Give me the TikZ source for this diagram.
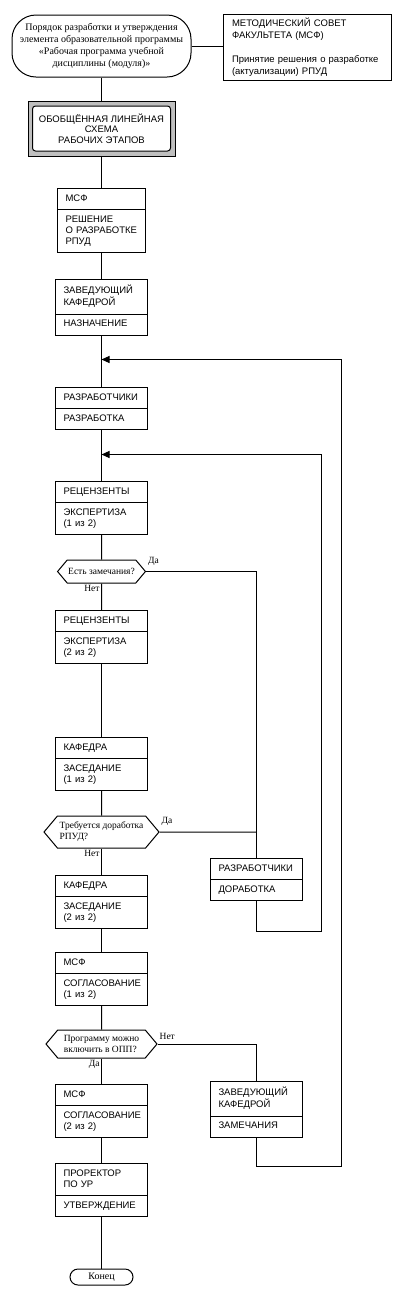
\documentclass[tikz,border=0pt]{standalone}
\usepackage{fontspec}
\setmainfont{Liberation Serif}
\setsansfont{Liberation Sans}
\usetikzlibrary{positioning, arrows.meta, shapes.multipart, shapes.symbols}

\begin{document}
\begin{tikzpicture}[
      x=1pt, y=-1pt,
      line width=1pt,
      proc/.style={draw, rectangle split, rectangle split parts=2,
                   text width=76pt, inner xsep=8pt, inner ysep=4.5pt, align=left,
                   anchor=north, font=\sffamily\fontsize{9.5}{11}\selectfont\strut},
      dec/.style={draw, signal, signal to=west and east, signal pointer angle=100,
                  inner xsep=1pt, inner ysep=2pt, align=left,
                  font=\fontsize{9.5}{11}\selectfont},
      term/.style={draw, align=center, inner sep=0pt,
                   font=\fontsize{10}{11.7}\selectfont},
      note/.style={draw, text width=150pt, inner xsep=9pt, minimum height=66pt,
                   align=left, font=\sffamily\fontsize{9.5}{12}\selectfont},
      frame/.style={draw, fill=black!25, minimum width=147pt, minimum height=55pt},
      scheme/.style={draw, fill=white, rounded corners=3pt, inner sep=0pt,
                     minimum width=138pt, minimum height=45pt, align=center,
                     font=\sffamily\fontsize{9.5}{10.5}\selectfont},
      lbl/.style={font=\fontsize{9.5}{11}\selectfont, inner sep=1.5pt},
      >={Triangle[length=8pt, width=7pt]},
    ]
    \useasboundingbox (0,0) rectangle (407,1302);

    % header
    \node[term, minimum width=179pt, minimum height=62pt, rounded corners=24pt] (start) at (101.5,46)
      {Порядок разработки и утверждения\\элемента образовательной программы\\
       «Рабочая программа учебной\\дисциплины (модуля)»};
    \node[note] (msf) at (307,47)
      {МЕТОДИЧЕСКИЙ СОВЕТ\\ФАКУЛЬТЕТА (МСФ)\\[12pt]Принятие решения о разработке\\(актуализации) РПУД};
    \node[frame] (schemef) at (101.5,128.5) {};
    \node[scheme] (scheme) at (schemef) {ОБОБЩЁННАЯ ЛИНЕЙНАЯ\\СХЕМА\\РАБОЧИХ ЭТАПОВ};

    % main column
    \node[proc, text width=72pt] (decide) at (101.5,188) {МСФ \nodepart{two} РЕШЕНИЕ\\О РАЗРАБОТКЕ\\РПУД\strut};
    \node[proc] (assign)  at (101.5,279)  {ЗАВЕДУЮЩИЙ\\КАФЕДРОЙ\strut \nodepart{two} НАЗНАЧЕНИЕ};
    \node[proc] (dev)     at (101.5,387)  {РАЗРАБОТЧИКИ \nodepart{two} РАЗРАБОТКА};
    \node[proc] (rev1)    at (101.5,481)  {РЕЦЕНЗЕНТЫ \nodepart{two} ЭКСПЕРТИЗА\\(1 из 2)\strut};
    \node[dec, minimum width=85pt, minimum height=23pt] (remarks) at (101.5,571.5) {Есть замечания?};
    \node[proc] (rev2)    at (101.5,610)  {РЕЦЕНЗЕНТЫ \nodepart{two} ЭКСПЕРТИЗА\\(2 из 2)\strut};
    \node[proc] (dept1)   at (101.5,737)  {КАФЕДРА \nodepart{two} ЗАСЕДАНИЕ\\(1 из 2)\strut};
    \node[dec, minimum width=115pt, minimum height=32pt] (rework) at (101.5,832) {Требуется доработка\\РПУД?};
    \node[proc] (dept2)   at (101.5,875)  {КАФЕДРА \nodepart{two} ЗАСЕДАНИЕ\\(2 из 2)\strut};
    \node[proc] (agree1)  at (101.5,952)  {МСФ \nodepart{two} СОГЛАСОВАНИЕ\\(1 из 2)\strut};
    \node[dec, minimum width=111pt, minimum height=28pt] (include) at (101.5,1044) {Программу можно\\включить в ОПП?};
    \node[proc] (agree2)  at (101.5,1084) {МСФ \nodepart{two} СОГЛАСОВАНИЕ\\(2 из 2)\strut};
    \node[proc] (approve) at (101.5,1163) {ПРОРЕКТОР\\ПО УР\strut \nodepart{two} УТВЕРЖДЕНИЕ};
    \node[term, minimum width=63pt, minimum height=16pt, rounded corners=8pt] (finish) at (101.5,1277) {Конец};

    % side column
    \node[proc] (fix)    at (256.5,858)  {РАЗРАБОТЧИКИ \nodepart{two} ДОРАБОТКА};
    \node[proc] (remark) at (256.5,1081) {ЗАВЕДУЮЩИЙ\\КАФЕДРОЙ\strut \nodepart{two} ЗАМЕЧАНИЯ};

    \coordinate (back1) at (101.5,359.5);
    \coordinate (back2) at (101.5,454.5);
    \coordinate (turn1) at (341.5,1166.5);
    \coordinate (turn2) at (321.5,931.5);

    \draw (start) -- (start -| msf.west);
    \draw (start) -- (schemef);
    \draw (schemef) -- (decide);
    \draw (decide) -- (assign);
    \draw (assign) -- (dev);
    \draw (dev) -- (rev1);
    \draw (rev1) -- (remarks);
    \draw (remarks) -- (rev2) node[pos=0, lbl, below left] (no1) {Нет};
    \draw (rev2) -- (dept1);
    \draw (dept1) -- (rework);
    \draw (rework) -- (dept2) node[pos=0, lbl, below left] (no2) {Нет};
    \draw (dept2) -- (agree1);
    \draw (agree1) -- (include);
    \draw (include) -- (agree2) node[pos=0, lbl, below left] (yes3) {Да};
    \draw (agree2) -- (approve);
    \draw (approve) -- (finish);

    % branches
    \draw (remarks) -| (fix) node[pos=0, lbl, above right, yshift=4pt] (yes1) {Да};
    \draw (rework) -- (rework -| fix) node[pos=0, lbl, above right, yshift=4pt] (yes2) {Да};
    \draw (include) -| (remark) node[pos=0, lbl, above right, yshift=2pt] (no3) {Нет};
    \draw[->] (fix) |- (turn2) |- (back2);
    \draw[->] (remark) |- (turn1) |- (back1);
  \end{tikzpicture}
\end{document}
